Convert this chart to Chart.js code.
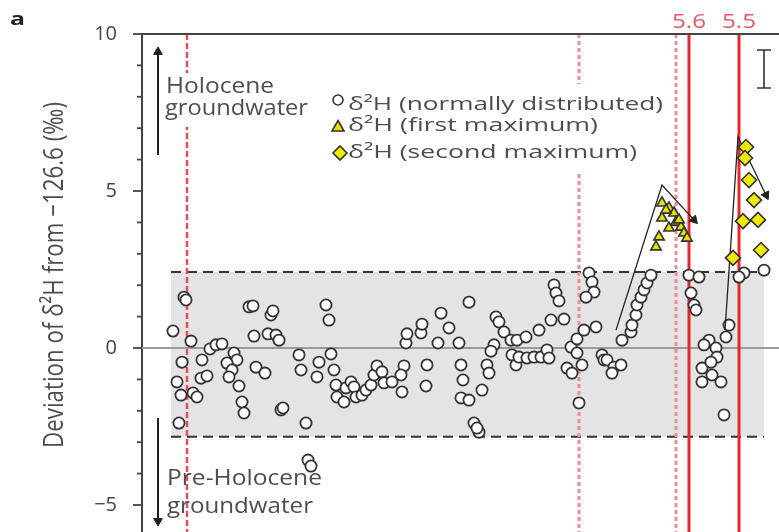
<!DOCTYPE html>
<html>
<head>
<meta charset="utf-8">
<script src="https://cdn.jsdelivr.net/npm/chart.js@4.4.1/dist/chart.umd.min.js"></script>
<style>
html,body{margin:0;padding:0;background:#fff;overflow:hidden}
#wrap{width:779px;height:532px;position:relative}
canvas{display:block}
</style>
</head>
<body>
<div id="wrap"><canvas id="c" width="779" height="532"></canvas></div>
<script>
// ---- data (x: position along the record, arbitrary units; y: deviation of δ2H in ‰) ----
const circleX = [31,42,44,49,40,35,39,37,51,55,60,59,65,68,74,80,92,95,85,90,87,97,100,102,107,111,112,114,123,129,131,126,134,137,139,141,157,159,164,166,169,177,175,184,187,189,192,194,195,202,204,209,212,214,220,224,229,232,235,240,242,250,262,259,260,264,265,279,280,285,284,299,307,296,317,327,319,321,319,327,340,332,337,335,345,347,354,357,362,352,349,369,370,374,375,384,397,409,422,412,414,417,377,385,392,399,405,407,429,425,430,440,435,435,442,454,437,447,450,452,444,460,462,465,472,470,479,480,489,490,494,495,499,502,505,509,547,557,549,552,554,567,562,574,575,560,569,570,560,579,582,584,587,602,597,622];
const circleY = [0.54,1.62,1.53,0.22,-0.45,-1.08,-1.50,-2.39,-1.43,-1.56,-0.38,-0.96,-0.89,-0.03,0.10,0.13,-0.16,-0.38,-0.48,-0.70,-0.92,-1.21,-1.72,-2.07,1.31,1.34,0.38,-0.61,-0.80,1.05,1.18,0.45,0.41,0.25,-1.97,-1.91,-0.22,-0.70,-2.39,-3.57,-3.76,-0.45,-0.92,1.37,0.89,-0.19,-0.70,-1.18,-1.56,-1.72,-1.27,-1.08,-1.24,-1.56,-1.50,-1.34,-1.18,-0.86,-0.57,-0.76,-1.11,-1.08,-0.57,-0.86,-1.40,0.16,0.45,0.48,0.76,-0.54,-1.21,1.11,0.64,0.16,0.16,1.46,-0.54,-1.02,-1.59,-1.66,-1.34,-2.39,-2.68,-2.55,-0.54,-0.80,0.99,0.83,0.51,0.10,-0.10,0.25,-0.22,-0.54,0.25,0.35,0.57,0.89,0.92,2.01,1.75,1.50,-0.29,-0.32,-0.29,-0.29,-0.06,-0.32,0.03,-0.64,-0.80,-0.54,-0.16,0.29,0.57,0.67,-1.75,2.39,2.10,1.78,1.62,-0.22,-0.38,-0.38,-0.61,-0.80,-0.54,0.25,0.51,0.73,1.05,1.37,1.62,1.85,2.07,2.32,2.32,2.26,1.75,1.37,1.21,0.25,0.10,0.00,-0.29,-0.64,-0.45,-0.86,-1.08,-1.08,-2.13,0.35,0.73,2.39,2.26,2.48];
const firstMaxX = [520,527,532,520,534,527,539,542,545,517,514,524,537];
const firstMaxY = [4.62,4.46,4.30,4.14,4.01,3.82,3.85,3.66,3.50,3.54,3.22,4.39,4.08];
const secondMaxX = [604,603,607,612,601,616,619,591];
const secondMaxY = [6.40,6.05,5.35,4.71,4.04,4.08,3.12,2.87];
const trend1X = [474,520,552], trend1Y = [0.57,5.19,4.08];
const trend2X = [583,596,624], trend2Y = [0.57,6.72,4.87];
const holoArrowX = [16,16], holoArrowY = [6.15,9.43];
const preHoloArrowX = [16,16], preHoloArrowY = [-2.23,-5.51];
const bandX = [29,622], bandY = [-2.83,2.42];
const dashedRedX = [45], dottedRedX = [437,534];
const solidRedX = [547,597], solidRedLabels = ['5.6','5.5'];
const errBarX = 622, errBarY = [8.28,9.49];
const yTickValues = [-5,0,5,10];
const legendLabels = ['δ²H (normally distributed)','δ²H (first maximum)','δ²H (second maximum)'];
const yTitle = 'Deviation of δ²H from −126.6 (‰)';

const pts = (xs, ys) => xs.map((x, i) => ({x: x, y: ys[i]}));
const FONT = '"Open Sans", "DejaVu Sans", sans-serif';
const TXT = '#4d4d4d';

function stretchText(ctx, txt, x, y, font, targetW, color) {
  ctx.save();
  ctx.font = font;
  const w = ctx.measureText(txt).width;
  ctx.translate(x, y);
  ctx.scale(targetW / w, 1);
  ctx.fillStyle = color;
  ctx.textAlign = 'left';
  ctx.textBaseline = 'alphabetic';
  ctx.fillText(txt, 0, 0);
  ctx.restore();
}

const deco = {
  id: 'deco',
  beforeDatasetsDraw(chart) {
    const ctx = chart.ctx, a = chart.chartArea;
    const X = v => chart.scales.x.getPixelForValue(v);
    const Y = v => chart.scales.y.getPixelForValue(v);
    ctx.save();
    // grey band
    ctx.fillStyle = '#e4e4e6';
    ctx.fillRect(X(bandX[0]), Y(bandY[1]), X(bandX[1]) - X(bandX[0]), Y(bandY[0]) - Y(bandY[1]));
    // zero line
    ctx.strokeStyle = '#9a9a9a'; ctx.lineWidth = 2;
    ctx.beginPath(); ctx.moveTo(a.left, Y(0)); ctx.lineTo(a.right, Y(0)); ctx.stroke();
    // dashed band limits
    ctx.strokeStyle = '#333'; ctx.lineWidth = 2; ctx.setLineDash([10, 6]);
    bandY.forEach(v => { ctx.beginPath(); ctx.moveTo(X(bandX[0]), Y(v)); ctx.lineTo(X(bandX[1]), Y(v)); ctx.stroke(); });
    // red verticals
    ctx.setLineDash([6, 3]); ctx.strokeStyle = '#ee4a58'; ctx.lineWidth = 2.5;
    dashedRedX.forEach(v => { ctx.beginPath(); ctx.moveTo(X(v), a.top); ctx.lineTo(X(v), a.bottom); ctx.stroke(); });
    ctx.setLineDash([4, 3]); ctx.strokeStyle = '#f28c94'; ctx.lineWidth = 3;
    dottedRedX.forEach(v => { ctx.beginPath(); ctx.moveTo(X(v), a.top); ctx.lineTo(X(v), a.bottom); ctx.stroke(); });
    ctx.setLineDash([]); ctx.strokeStyle = '#e8262c'; ctx.lineWidth = 3;
    solidRedX.forEach(v => { ctx.beginPath(); ctx.moveTo(X(v), a.top); ctx.lineTo(X(v), a.bottom); ctx.stroke(); });
    // white backgrounds behind annotation texts
    ctx.fillStyle = '#fff';
    ctx.fillRect(163, 73, 150, 54);
    ctx.fillRect(330, 84, 338, 88);
    ctx.restore();
  },
  afterDatasetsDraw(chart) {
    const ctx = chart.ctx, a = chart.chartArea;
    const X = v => chart.scales.x.getPixelForValue(v);
    const Y = v => chart.scales.y.getPixelForValue(v);
    ctx.save();
    // top frame line
    ctx.strokeStyle = '#444'; ctx.lineWidth = 2;
    ctx.beginPath(); ctx.moveTo(a.left - 1, a.top); ctx.lineTo(a.right, a.top); ctx.stroke();
    // y ticks (major + minor)
    ctx.lineWidth = 1.8;
    for (let v = -5; v <= 10; v++) {
      const len = yTickValues.includes(v) ? 9 : 5;
      ctx.beginPath(); ctx.moveTo(a.left - len, Y(v)); ctx.lineTo(a.left, Y(v)); ctx.stroke();
    }
    // error bar
    ctx.strokeStyle = '#333'; ctx.lineWidth = 1.6;
    const ex = X(errBarX), e1 = Y(errBarY[0]), e2 = Y(errBarY[1]);
    ctx.beginPath();
    ctx.moveTo(ex, e1); ctx.lineTo(ex, e2);
    ctx.moveTo(ex - 7, e1); ctx.lineTo(ex + 7, e1);
    ctx.moveTo(ex - 7, e2); ctx.lineTo(ex + 7, e2);
    ctx.stroke();
    // annotation texts
    stretchText(ctx, 'Holocene', 166, 93, '21px ' + FONT, 108, TXT);
    stretchText(ctx, 'groundwater', 165, 115, '21px ' + FONT, 143, TXT);
    stretchText(ctx, 'Pre-Holocene', 167, 485, '21px ' + FONT, 155, TXT);
    stretchText(ctx, 'groundwater', 167, 513, '21px ' + FONT, 146, TXT);
    // red line labels
    solidRedX.forEach((v, i) => stretchText(ctx, solidRedLabels[i], X(v) - 17, 28, '20px ' + FONT, 34, '#ee5560'));
    // panel label
    stretchText(ctx, 'a', 10, 25, 'bold 18px ' + FONT, 15, '#222');
    // legend
    ctx.lineWidth = 1.6; ctx.strokeStyle = '#333';
    ctx.fillStyle = '#fff';
    ctx.beginPath(); ctx.arc(338, 100, 5, 0, Math.PI * 2); ctx.fill(); ctx.stroke();
    ctx.fillStyle = '#e3df00';
    ctx.beginPath(); ctx.moveTo(338, 120.5); ctx.lineTo(344, 131); ctx.lineTo(332, 131); ctx.closePath(); ctx.fill(); ctx.stroke();
    ctx.fillStyle = '#efeb00';
    ctx.beginPath(); ctx.moveTo(340, 146); ctx.lineTo(347, 153); ctx.lineTo(340, 160); ctx.lineTo(333, 153); ctx.closePath(); ctx.fill(); ctx.stroke();
    stretchText(ctx, legendLabels[0], 348, 110, '18px ' + FONT, 315, TXT);
    stretchText(ctx, legendLabels[1], 348, 131, '18px ' + FONT, 250, TXT);
    stretchText(ctx, legendLabels[2], 348, 158, '18px ' + FONT, 289, TXT);
    // y axis title (rotated)
    ctx.save();
    ctx.font = '22px ' + FONT;
    const tw = ctx.measureText(yTitle).width;
    ctx.translate(63, 275);
    ctx.rotate(-Math.PI / 2);
    ctx.scale(346 / tw, 1.27);
    ctx.fillStyle = TXT; ctx.textAlign = 'center'; ctx.textBaseline = 'alphabetic';
    ctx.fillText(yTitle, 0, 0);
    ctx.restore();
    ctx.restore();
  }
};

const arrowDs = (xs, ys, rot, lw) => ({
  data: pts(xs, ys), showLine: true, borderColor: '#222', borderWidth: lw,
  pointRadius: xs.map((_, i) => i === xs.length - 1 ? 5 : 0),
  pointStyle: 'triangle',
  pointRotation: xs.map((_, i) => i === xs.length - 1 ? rot : 0),
  pointBackgroundColor: '#222', pointBorderColor: '#222', pointBorderWidth: 1,
  order: 4
});

new Chart(document.getElementById('c').getContext('2d'), {
  type: 'scatter',
  data: {
    datasets: [
      { label: legendLabels[0], data: pts(circleX, circleY), pointStyle: 'circle', pointRadius: 5.6,
        borderWidth: 1.8, borderColor: '#333', backgroundColor: '#fff', order: 6 },
      arrowDs(trend1X, trend1Y, 138, 1.3),
      arrowDs(trend2X, trend2Y, 154, 1.3),
      arrowDs(holoArrowX, holoArrowY, 0, 2),
      arrowDs(preHoloArrowX, preHoloArrowY, 180, 2),
      { label: legendLabels[1], data: pts(firstMaxX, firstMaxY), pointStyle: 'triangle', pointRadius: 6,
        borderWidth: 1.6, borderColor: '#333', backgroundColor: '#e3df00', order: 3 },
      { label: legendLabels[2], data: pts(secondMaxX, secondMaxY), pointStyle: 'rectRot', pointRadius: 7.5,
        borderWidth: 1.6, borderColor: '#333', backgroundColor: '#efeb00', order: 2 }
    ]
  },
  options: {
    responsive: false, animation: false, events: [],
    plugins: { legend: { display: false }, tooltip: { enabled: false } },
    layout: { autoPadding: false, padding: { top: 34, left: 0, right: 0, bottom: 0 } },
    scales: {
      x: { type: 'linear', display: false, min: 0, max: 637 },
      y: {
        min: -5.86, max: 10,
        afterFit(s) { s.width = 142; s.paddingTop = 0; s.paddingBottom = 0; },
        ticks: {
          stepSize: 1, autoSkip: false, padding: 17, color: '#444',
          font: { family: FONT, size: 20 },
          callback(v) { return yTickValues.includes(v) ? (v < 0 ? '−' + Math.abs(v) : String(v)) : ''; }
        },
        grid: { display: false },
        border: { display: true, color: '#444', width: 2 }
      }
    }
  },
  plugins: [deco]
});
</script>
</body>
</html>
